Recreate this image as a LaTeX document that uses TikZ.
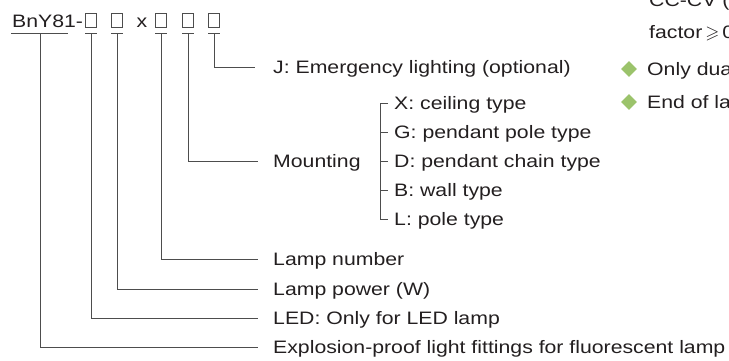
\documentclass[tikz,border=0pt]{standalone}
\usepackage{amssymb}
\usepackage{fontspec}
\setmainfont{Liberation Sans}[FakeStretch=1.18]
\usetikzlibrary{shapes.geometric}
\definecolor{txtgray}{HTML}{231F20}
\definecolor{linegray}{HTML}{4D4D4D}
\definecolor{bulletgreen}{HTML}{9BC36B}
\tikzset{
  code/.style   = {inner sep=0pt, anchor=base west, text=txtgray},
  slot/.style   = {draw=linegray, line width=0.8pt, minimum width=11pt, minimum height=14pt, inner sep=0pt},
  desc/.style   = {inner sep=0pt, anchor=west, text height=13pt, text depth=0pt, text=txtgray},
  bar/.style    = {draw=linegray, line width=0.9pt},
  lead/.style   = {bar, shorten >=15pt},
  bullet/.style = {diamond, fill=bulletgreen, inner sep=0pt, minimum width=16pt, minimum height=16pt},
}

\begin{document}
\begin{tikzpicture}[x=1pt, y=-1pt, font=\fontsize{18}{22}\selectfont]
  \useasboundingbox (0,0) rectangle (729,360);
  \clip (0,0) rectangle (729,360);
  \node[code] (model) at (12,27) {BnY81-};
  \node[code, anchor=base] (times) at (142,27) {x};
  \foreach \n/\x in {1/91, 2/117, 3/161, 4/188, 5/214}
    \node[slot] (b\n) at (\x,20.5) {};
  \coordinate (t0) at (40,33);
  \draw[bar] ([xshift=-29pt]t0) -- ([xshift=28pt]t0);
  \foreach \n in {1,...,5} {
    \coordinate (t\n) at ([yshift=-6pt]b\n.south);
    \draw[bar] ([xshift=-6pt]t\n) -- ([xshift=6pt]t\n);
  }
  \node[desc] (lj) at (273,67) {J: Emergency lighting (optional)};
  \node[desc] (lmount) at (273,161) {Mounting};
  \node[desc] (mx) at (394,103) {X: ceiling type};
  \node[desc] (mg) at (394,132) {G: pendant pole type};
  \node[desc] (md) at (394,161) {D: pendant chain type};
  \node[desc] (mb) at (394,190) {B: wall type};
  \node[desc] (ml) at (394,219) {L: pole type};
  \node[desc] (lnum) at (273,259) {Lamp number};
  \node[desc] (lpow) at (273,289) {Lamp power (W)};
  \node[desc] (lled) at (273,318) {LED: Only for LED lamp};
  \node[desc] (lexp) at (273,347) {Explosion-proof light fittings for fluorescent lamp};
  \draw[lead, shorten >=18pt] (t5) |- (lj.west);
  \draw[lead] (t4) |- (lmount.west);
  \draw[lead] (t3) |- (lnum.west);
  \draw[lead] (t2) |- (lpow.west);
  \draw[lead] (t1) |- (lled.west);
  \draw[lead] (t0) |- (lexp.west);
  \draw[bar] ([xshift=-6pt]mx.west) -- ([xshift=-14pt]mx.west) -- ([xshift=-14pt]ml.west) -- ([xshift=-6pt]ml.west);
  \foreach \m in {mg,md,mb}
    \draw[bar] ([xshift=-14pt]\m.west) -- ([xshift=-6pt]\m.west);
  \node[code] (cccv) at (649,6) {CC-CV (};
  \node[code] (pf) at (649,38) {factor\,$\geqslant$\,0};
  \node[bullet] (d1) at (629,69) {};
  \node[desc] (dual) at (647,69) {Only dua};
  \node[bullet] (d2) at (629,102) {};
  \node[desc] (eol) at (647,102) {End of la};
\end{tikzpicture}
\end{document}
